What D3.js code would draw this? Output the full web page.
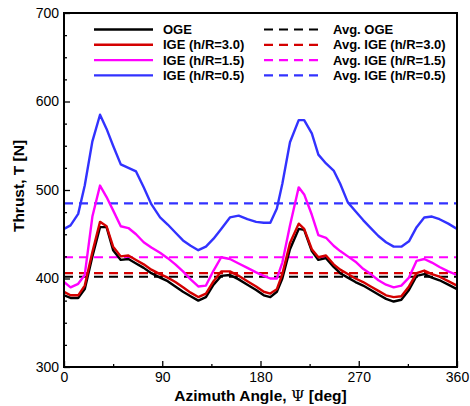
<!DOCTYPE html>
<html>
<head>
<meta charset="utf-8">
<script src="https://cdn.jsdelivr.net/npm/d3@7"></script>
<style>
  html, body { margin: 0; padding: 0; background: #fff; }
  svg { display: block; font-family: "Liberation Sans", Arial, sans-serif; }
</style>
</head>
<body>
<svg id="chart" width="470" height="406"></svg>
<script>
// Azimuth stations (deg)
const psi = [0, 6, 13, 19, 26, 33, 39, 45, 52, 59, 66, 73, 80, 88, 95, 102, 109, 116, 123, 130,
  137, 144, 152, 160, 168, 176, 183, 189, 195, 200, 207, 215, 220, 227, 233, 240, 247, 253, 260,
  267, 274, 281, 288, 295, 302, 309, 316, 323, 330, 337, 344, 352, 360];

// Rotor thrust (N) vs azimuth
const thrustOGE = [381, 378, 378, 388, 425, 458, 458, 432, 421, 422, 417, 412, 406, 401, 397, 391,
  385, 380, 375, 379, 393, 403, 404, 399, 393, 387, 381, 379, 385, 400, 433, 456, 455, 431, 421,
  423, 413, 406, 401, 396, 392, 387, 382, 377, 374, 376, 387, 403, 405, 401, 398, 393, 388];
const thrustIGE30 = [385, 381, 381, 392, 430, 464, 459, 436, 425, 426, 421, 416, 410, 405, 401, 396,
  390, 384, 379, 383, 397, 408, 408, 403, 397, 391, 385, 383, 388, 405, 440, 462, 456, 433, 424,
  426, 416, 410, 405, 400, 396, 391, 386, 381, 379, 380, 391, 406, 409, 405, 402, 397, 392];
const thrustIGE15 = [396, 390, 394, 404, 470, 505, 492, 477, 459, 457, 450, 441, 435, 429, 423, 416,
  408, 399, 391, 392, 409, 424, 422, 417, 412, 407, 403, 400, 400, 418, 460, 503, 495, 472, 449,
  446, 437, 431, 425, 419, 411, 405, 398, 393, 390, 392, 401, 420, 422, 418, 413, 408, 404];
const thrustIGE05 = [456, 460, 473, 505, 555, 585, 569, 550, 529, 525, 521, 503, 484, 469, 461, 452,
  443, 437, 432, 436, 445, 456, 469, 471, 467, 464, 463, 463, 479, 507, 554, 579, 579, 564, 540,
  530, 522, 507, 486, 476, 466, 457, 448, 441, 436, 436, 442, 458, 469, 470, 467, 462, 456];

// Azimuth-averaged thrust (N)
const avgThrust = [402, 406, 424, 485];

const seriesNames = ["OGE", "IGE (h/R=3.0)", "IGE (h/R=1.5)", "IGE (h/R=0.5)"];
const avgNames = ["Avg. OGE", "Avg. IGE (h/R=3.0)", "Avg. IGE (h/R=1.5)", "Avg. IGE (h/R=0.5)"];
const seriesColors = ["#000000", "#d40000", "#ff00ff", "#3232ff"];

const xMajorTicks = [0, 90, 180, 270, 360];
const xMinorTicks = [45, 135, 225, 315];
const yMajorTicks = [300, 400, 500, 600, 700];
const yMinorTicks = [325, 350, 375, 425, 450, 475, 525, 550, 575, 625, 650, 675];

const seriesValues = [thrustOGE, thrustIGE30, thrustIGE15, thrustIGE05];

const svg = d3.select("#chart");
const plot = { left: 64, right: 457, top: 13, bottom: 367 };

const x = d3.scaleLinear().domain([0, 360]).range([plot.left, plot.right]);
const y = d3.scaleLinear().domain([300, 700]).range([plot.bottom, plot.top]);

const clip = svg.append("clipPath").attr("id", "plotClip")
  .append("rect")
  .attr("x", plot.left).attr("y", plot.top)
  .attr("width", plot.right - plot.left).attr("height", plot.bottom - plot.top);

const g = svg.append("g").attr("clip-path", "url(#plotClip)");

// average lines (dashed)
avgThrust.forEach((v, i) => {
  g.append("line")
    .attr("x1", x(0)).attr("x2", x(360))
    .attr("y1", y(v)).attr("y2", y(v))
    .attr("stroke", seriesColors[i])
    .attr("stroke-width", 2.2)
    .attr("stroke-dasharray", "9,6");
});

// thrust curves
const line = d3.line()
  .x((d, i) => x(psi[i]))
  .y(d => y(d));

seriesValues.forEach((vals, i) => {
  g.append("path")
    .datum(vals)
    .attr("d", line)
    .attr("fill", "none")
    .attr("stroke", seriesColors[i])
    .attr("stroke-width", 2.4)
    .attr("stroke-linejoin", "round");
});

// axes with inward ticks
const xAxis = svg.append("g")
  .attr("transform", `translate(0,${plot.bottom})`)
  .call(d3.axisBottom(x).tickValues(xMajorTicks).tickSizeInner(-6).tickSizeOuter(0).tickPadding(5));
svg.append("g")
  .attr("transform", `translate(0,${plot.bottom})`)
  .call(d3.axisBottom(x).tickValues(xMinorTicks).tickSizeInner(-3).tickSizeOuter(0).tickFormat(""));

const yAxis = svg.append("g")
  .attr("transform", `translate(${plot.left},0)`)
  .call(d3.axisLeft(y).tickValues(yMajorTicks).tickSizeInner(-6).tickSizeOuter(0).tickPadding(5));
svg.append("g")
  .attr("transform", `translate(${plot.left},0)`)
  .call(d3.axisLeft(y).tickValues(yMinorTicks).tickSizeInner(-3).tickSizeOuter(0).tickFormat(""));

svg.selectAll(".domain").remove();
svg.selectAll(".tick line").attr("stroke", "#000").attr("stroke-width", 1.3);
svg.selectAll(".tick text")
  .attr("font-family", "'Liberation Sans', Arial, sans-serif")
  .attr("font-size", 14)
  .attr("fill", "#000");

// frame
svg.append("rect")
  .attr("x", plot.left).attr("y", plot.top)
  .attr("width", plot.right - plot.left).attr("height", plot.bottom - plot.top)
  .attr("fill", "none")
  .attr("stroke", "#000")
  .attr("stroke-width", 2);

// axis titles
const xTitle = svg.append("text")
  .attr("x", (plot.left + plot.right) / 2)
  .attr("y", 401)
  .attr("text-anchor", "middle")
  .attr("font-size", 15.5)
  .attr("font-weight", "bold");
xTitle.append("tspan").text("Azimuth Angle, ");
xTitle.append("tspan").attr("font-weight", "normal").attr("font-family", "'DejaVu Serif', serif").text("Ψ");
xTitle.append("tspan").text(" [deg]");

svg.append("text")
  .attr("transform", `translate(24,${(plot.top + plot.bottom) / 2 - 4}) rotate(-90)`)
  .attr("text-anchor", "middle")
  .attr("font-size", 15.5)
  .attr("font-weight", "bold")
  .text("Thrust, T [N]");

// legend
const legendRowY = [29.5, 44.8, 60.1, 75.4];
const legend = svg.append("g");
seriesNames.forEach((name, i) => {
  legend.append("line")
    .attr("x1", 94).attr("x2", 153)
    .attr("y1", legendRowY[i]).attr("y2", legendRowY[i])
    .attr("stroke", seriesColors[i]).attr("stroke-width", 2.4);
  legend.append("text")
    .attr("x", 163).attr("y", legendRowY[i]).attr("dy", "0.35em")
    .attr("font-size", 13).attr("font-weight", "bold")
    .text(name);
});
avgNames.forEach((name, i) => {
  legend.append("line")
    .attr("x1", 264).attr("x2", 319)
    .attr("y1", legendRowY[i]).attr("y2", legendRowY[i])
    .attr("stroke", seriesColors[i]).attr("stroke-width", 2.2)
    .attr("stroke-dasharray", "9,6");
  legend.append("text")
    .attr("x", 333).attr("y", legendRowY[i]).attr("dy", "0.35em")
    .attr("font-size", 13).attr("font-weight", "bold")
    .text(name);
});
</script>
</body>
</html>
